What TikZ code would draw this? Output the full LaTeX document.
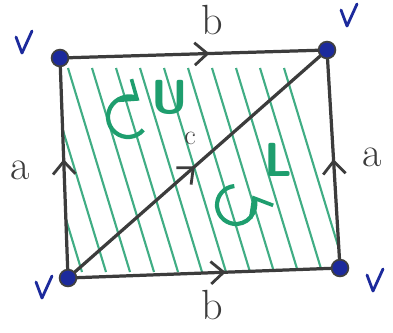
\documentclass[tikz,border=0pt]{standalone}
\usepackage{xcolor}
\definecolor{penBlack}{HTML}{3C3C3C}
\definecolor{penBlue}{HTML}{1C2A9C}
\definecolor{penGreen}{HTML}{1E9E6E}
\usepackage{tikz}
\usetikzlibrary{arrows.meta, decorations.markings}

\begin{document}
\begin{tikzpicture}[
    x=0.025cm, y=-0.025cm,
    side/.style   ={penBlack, line width=2.3pt, line cap=round,
                    postaction={decorate, decoration={markings,
                      mark=at position #1 with {\arrow{Straight Barb[length=3.2mm, width=5.6mm, line width=2pt]}}}}},
    side/.default =0.55,
    vertex/.style ={circle, fill=penBlue, draw=black!75, line width=1.2pt,
                    minimum size=0.42cm, inner sep=0pt},
    hatch/.style  ={penGreen!85, line width=1.5pt},
    lbl/.style    ={font=\fontsize{30}{30}\selectfont, text=penBlack, inner sep=0pt},
    turn/.style   ={font=\sffamily\bfseries\fontsize{34}{34}\selectfont, text=penGreen, inner sep=0pt},
    spin/.style   ={penGreen, line width=3pt, -{Straight Barb[length=4mm, width=6.5mm, line width=2.6pt]}},
    tick/.pic     ={\draw[penBlue, line width=2pt, line cap=round, line join=round]
                      (-6,-8) -- (0,8) -- (10,-14);}
]
\useasboundingbox (0,0) rectangle (393,332);

% corners
\coordinate (tl) at (60,58);
\coordinate (tr) at (327,50);
\coordinate (bl) at (68,278);
\coordinate (br) at (340,268);

% shading
\begin{scope}
  \clip (tl) -- (tr) -- (br) -- (bl) -- cycle;
  \foreach \x in {20,44,...,284}
    \draw[hatch] (\x,68) -- (\x+62,272);
\end{scope}

% sides and diagonal
\draw[side=0.56] (tl) -- (tr);
\draw[side=0.58] (bl) -- (br);
\draw[side=0.54] (bl) -- (tl);
\draw[side=0.50] (br) -- (tr);
\draw[side=0.49] (bl) -- (tr);

\node[vertex] (v1) at (tl) {};
\node[vertex] (v2) at (tr) {};
\node[vertex] (v3) at (bl) {};
\node[vertex] (v4) at (br) {};

% edge labels
\node[lbl] (topb)   at (212,20)  {b};
\node[lbl] (botb)   at (212,305) {b};
\node[lbl] (lefta)  at (20,170)  {a};
\node[lbl] (righta) at (372,157) {a};
\node[lbl, font=\fontsize{20}{20}\selectfont] (diagc) at (190,138) {c};

% checked vertices
\pic at (22,45)  {tick};
\pic at (347,18) {tick};
\pic at (42,290) {tick};
\pic at (373,283) {tick};

% orientations
\node[turn] (upper) at (170,97)  {U};
\node[turn] (lower) at (278,160) {L};
\draw[spin] (128,117) ++(40:20) arc[start angle=40, end angle=305, radius=20];
\draw[spin] (236,205) ++(265:19) arc[start angle=265, end angle=-30, radius=19];

\end{tikzpicture}
\end{document}
